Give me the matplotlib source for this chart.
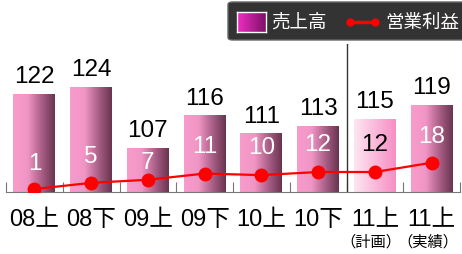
import matplotlib.pyplot as plt
import numpy as np
from matplotlib.colors import LinearSegmentedColormap
from matplotlib.patches import Rectangle, FancyBboxPatch
from matplotlib.lines import Line2D

plt.rcParams['font.family'] = ['Liberation Sans', 'Noto Sans CJK JP']

# données
periods = ['08上', '08下', '09上', '09下', '10上', '10下', '11上', '11上']
sub_labels = ['', '', '', '', '', '', '（計画）', '（実績）']
sales = [122, 124, 107, 116, 111, 113, 115, 119]
profit = [1, 5, 7, 11, 10, 12, 12, 18]
plan_idx = 6

# dégradés
cm_bar = LinearSegmentedColormap.from_list(
    'bar', [(0, '#f89ccb'), (0.35, '#f095c5'), (0.7, '#a65c83'), (1, '#6a3551')])
cm_plan = LinearSegmentedColormap.from_list('plan', ['#fde6f1', '#f78ec5'])
cm_leg = LinearSegmentedColormap.from_list('leg', ['#f22ec4', '#7e1068'])
grad = np.linspace(0, 1, 100).reshape(1, -1)

fig = plt.figure(figsize=(4.62, 2.55), dpi=100)
ax = fig.add_axes([6 / 462, 62 / 255, 454 / 462, 148 / 255])

w = 0.74
for i, v in enumerate(sales):
    x0 = i + 0.5 - w / 2
    cmap = cm_plan if i == plan_idx else cm_bar
    im = ax.imshow(grad, cmap=cmap, aspect='auto',
                   extent=[x0, x0 + w, 94.7, v], zorder=1)
    rect = Rectangle((x0, 94.7), w, v - 94.7, transform=ax.transData,
                     facecolor='none', edgecolor='none')
    ax.add_patch(rect)
    im.set_clip_path(rect)
    ax.annotate(str(v), (i + 0.5, v), xytext=(0, 5), textcoords='offset points',
                ha='center', va='bottom', fontsize=17.5, color='black')
ax.set_xlim(0, len(periods))
ax.set_ylim(94.7, 135.9)

# axe secondaire : résultat d'exploitation
ax2 = ax.twinx()
ax2.set_ylim(-0.9, 94.6)
xs = np.arange(len(profit)) + 0.5
ax2.plot(xs, profit, color='#ff0000', lw=1.6, marker='o', ms=9, zorder=3)
offsets = [19, 19, 13, 20, 20, 20, 20, 19]
for i, v in enumerate(profit):
    col = 'black' if i == plan_idx else 'white'
    ax2.annotate(str(v), (xs[i], v), xytext=(0, offsets[i]), textcoords='offset points',
                 ha='center', va='center', fontsize=17.5, color=col)

# ligne verticale entre prévisionnel et réalisé
ax.axvline(plan_idx, color='#333333', lw=1)

for a in (ax, ax2):
    for s in ['top', 'right', 'left']:
        a.spines[s].set_visible(False)
    a.set_yticks([])
ax2.spines['bottom'].set_visible(False)
ax.spines['bottom'].set_color('#777777')
ax.set_xticks(np.arange(len(periods) + 1))
ax.set_xticklabels([])
ax.tick_params(axis='x', direction='in', length=7, color='#777777')

for i, p in enumerate(periods):
    fig.text((6 + 56.75 * (i + 0.5)) / 462, 1 - 220 / 255, p, ha='center', va='center',
             fontsize=17)
    if sub_labels[i]:
        fig.text((2 + 56.75 * (i + 0.5)) / 462, 1 - 242 / 255, sub_labels[i],
                 ha='center', va='center', fontsize=11)

# légende manuelle
box = FancyBboxPatch((228 / 462, 1 - 41 / 255), 240 / 462, 38 / 255,
                     boxstyle='round,pad=0,rounding_size=0.01', transform=fig.transFigure,
                     facecolor='#333333', edgecolor='#666666', lw=1)
fig.patches.append(box)
lax = fig.add_axes([237 / 462, 1 - 33 / 255, 29 / 462, 20 / 255])
lax.set_zorder(3)
lax.imshow(grad, cmap=cm_leg, aspect='auto', extent=[0, 1, 0, 1])
lax.set_xticks([])
lax.set_yticks([])
for s in lax.spines.values():
    s.set_color('white')
    s.set_linewidth(1)
fig.text(271 / 462, 1 - 23 / 255, '売上高', color='white', fontsize=13.3, va='center')
fig.lines.append(Line2D([350 / 462, 375 / 462], [1 - 23 / 255, 1 - 23 / 255],
                        transform=fig.transFigure, color='#ff0000', lw=2.5,
                        marker='o', ms=5))
fig.text(385 / 462, 1 - 23 / 255, '営業利益', color='white', fontsize=13.3, va='center')

fig.savefig('out.png', dpi=100)
